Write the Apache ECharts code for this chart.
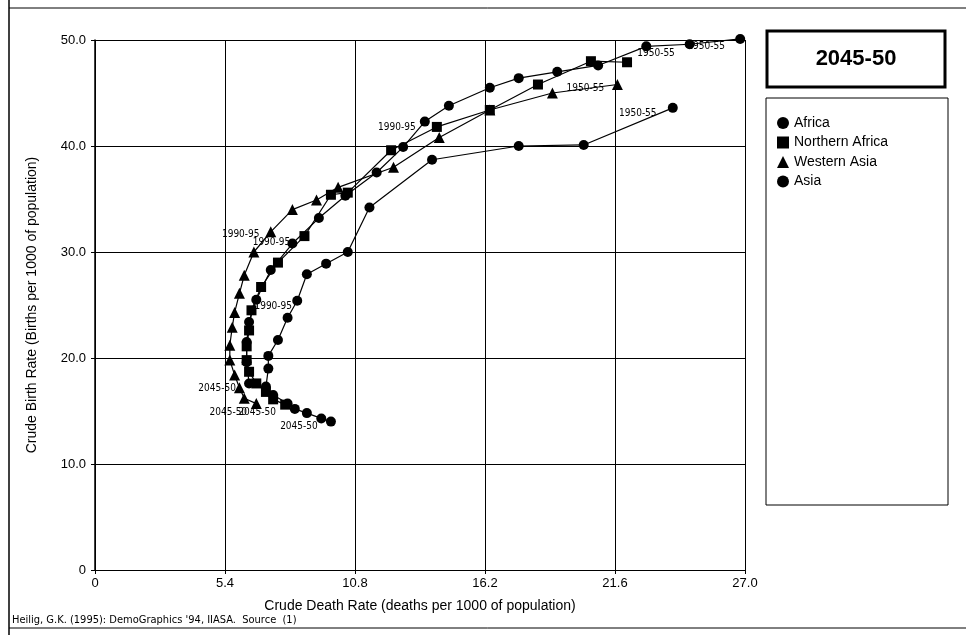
<!DOCTYPE html>
<html><head><meta charset="utf-8">
<script src="https://cdn.jsdelivr.net/npm/echarts@6/dist/echarts.min.js"></script>
<style>html,body{margin:0;padding:0;background:#fff}#c{width:966px;height:635px}</style>
</head><body><div id="c"></div>
<script>
const periods = ['1950-55','1955-60','1960-65','1965-70','1970-75','1975-80','1980-85','1985-90','1990-95','1995-00',
                 '2000-05','2005-10','2010-15','2015-20','2020-25','2025-30','2030-35','2035-40','2040-45','2045-50'];
const xTicks = [0, 5.4, 10.8, 16.2, 21.6, 27.0];
const yTicks = [0, 10, 20, 30, 40, 50];

const africaCDR = [26.8,24.7,22.9,20.9,19.2,17.6,16.4,14.7,13.7,12.8,11.7,10.4,9.3,8.2,7.3,6.7,6.4,6.3,6.3,6.4];
const africaCBR = [50.1,49.6,49.4,47.6,47.0,46.4,45.5,43.8,42.3,39.9,37.5,35.3,33.2,30.8,28.3,25.5,23.4,21.5,19.6,17.6];

const nAfricaCDR = [22.1,20.6,18.4,16.4,14.2,12.3,10.5,9.8,8.7,7.6,6.9,6.5,6.4,6.3,6.3,6.4,6.7,7.1,7.4,7.9];
const nAfricaCBR = [47.9,48.0,45.8,43.4,41.8,39.6,35.6,35.4,31.5,29.0,26.7,24.5,22.6,21.1,19.8,18.7,17.6,16.8,16.1,15.6];

const wAsiaCDR = [21.7,19.0,16.4,14.3,12.4,10.1,9.2,8.2,7.3,6.6,6.2,6.0,5.8,5.7,5.6,5.6,5.8,6.0,6.2,6.7];
const wAsiaCBR = [45.8,45.0,43.4,40.8,38.0,36.1,34.9,34.0,31.9,30.0,27.8,26.1,24.3,22.9,21.2,19.8,18.4,17.2,16.2,15.7];

const asiaCDR = [24.0,20.3,17.6,14.0,11.4,10.5,9.6,8.8,8.4,8.0,7.6,7.2,7.2,7.1,7.4,8.0,8.3,8.8,9.4,9.8];
const asiaCBR = [43.6,40.1,40.0,38.7,34.2,30.0,28.9,27.9,25.4,23.8,21.7,20.2,19.0,17.3,16.5,15.7,15.2,14.8,14.3,14.0];

const seriesNames = ['Africa','Northern Africa','Western Asia','Asia'];
const labelledPeriods = ['1950-55','1990-95','2045-50'];

// label offsets (styling) per series, for the labelled periods
const labelOffsets = {
  'Africa':          [[-34,7],[-28,6],[-32,5]],
  'Northern Africa': [[29,-9],[-33,6],[-28,8]],
  'Western Asia':    [[-32,4],[-30,3],[-28,9]],
  'Asia':            [[-35,6],[-24,6],[-32,5]]
};
const symbols = {'Africa':'circle','Northern Africa':'rect','Western Asia':'triangle','Asia':'circle'};
const symSizes = {'Africa':10,'Northern Africa':10,'Western Asia':11,'Asia':10};

function build(name, xs, ys) {
  const data = xs.map((x, i) => {
    const p = periods[i];
    const k = labelledPeriods.indexOf(p);
    const item = { value: [x, ys[i]] };
    if (k >= 0) {
      item.label = {
        show: true, formatter: p, position: 'inside', offset: labelOffsets[name][k],
        color: '#000', fontSize: 10, fontFamily: '"Liberation Sans Narrow","DejaVu Sans Condensed","Liberation Sans",sans-serif'
      };
    }
    return item;
  });
  return {
    name, type: 'line', data, symbol: symbols[name], symbolSize: symSizes[name],
    showAllSymbol: true, clip: false,
    lineStyle: { color: '#000', width: 1.2 },
    itemStyle: { color: '#000' },
    label: { show: false },
    emphasis: { disabled: true },
    z: 3
  };
}

const chart = echarts.init(document.getElementById('c'), null, { renderer: 'canvas' });
const fmt = v => (Math.abs(v) < 1e-9 ? '0' : (Math.round(v * 10) / 10).toFixed(1));
chart.setOption({
  animation: false,
  backgroundColor: '#fff',
  textStyle: { fontFamily: '"Liberation Sans", Arial, sans-serif' },
  grid: { left: 95, right: 221, top: 40, bottom: 65, containLabel: false },
  xAxis: {
    type: 'value', min: xTicks[0], max: xTicks[xTicks.length - 1], interval: xTicks[1],
    name: 'Crude Death Rate (deaths per 1000 of population)',
    nameLocation: 'middle', nameGap: 29,
    nameTextStyle: { color: '#000', fontSize: 14 },
    axisLine: { lineStyle: { color: '#000', width: 1 } },
    axisTick: { show: true, length: 4, lineStyle: { color: '#000' } },
    axisLabel: { color: '#000', fontSize: 13, margin: 7, formatter: fmt },
    splitLine: { show: true, lineStyle: { color: '#000', width: 1 } }
  },
  yAxis: {
    type: 'value', min: yTicks[0], max: yTicks[yTicks.length - 1], interval: yTicks[1],
    name: 'Crude Birth Rate (Births per 1000 of population)',
    nameLocation: 'middle', nameGap: 56, nameRotate: 90,
    nameTextStyle: { color: '#000', fontSize: 14 },
    axisLine: { show: true, lineStyle: { color: '#000', width: 1.5 } },
    axisTick: { show: true, length: 4, lineStyle: { color: '#000' } },
    axisLabel: { color: '#000', fontSize: 13, margin: 9, formatter: fmt },
    splitLine: { show: true, lineStyle: { color: '#000', width: 1 } }
  },
  legend: {
    orient: 'vertical', left: 772, top: 111, itemWidth: 12, itemHeight: 12, itemGap: 5.5,
    textStyle: { color: '#000', fontSize: 14 },
    data: seriesNames.map(n => ({ name: n, icon: symbols[n] })),
    itemStyle: { color: '#000' },
    selectedMode: false
  },
  series: [
    build('Africa', africaCDR, africaCBR),
    build('Northern Africa', nAfricaCDR, nAfricaCBR),
    build('Western Asia', wAsiaCDR, wAsiaCBR),
    build('Asia', asiaCDR, asiaCBR)
  ],
  graphic: [
    { type: 'line', shape: { x1: 9, y1: 0, x2: 9, y2: 635 }, style: { stroke: '#000', lineWidth: 1.5 } },
    { type: 'line', shape: { x1: 9, y1: 8, x2: 966, y2: 8 }, style: { stroke: '#000', lineWidth: 1 } },
    { type: 'line', shape: { x1: 9, y1: 628, x2: 966, y2: 628 }, style: { stroke: '#000', lineWidth: 1 } },
    { type: 'rect', shape: { x: 767, y: 31, width: 178, height: 56 }, style: { fill: '#fff', stroke: '#000', lineWidth: 3 } },
    { type: 'text', x: 856, y: 59, style: { text: '2045-50', fill: '#000', font: 'bold 22px "Liberation Sans", Arial, sans-serif', textAlign: 'center', textVerticalAlign: 'middle' } },
    { type: 'rect', shape: { x: 766, y: 98, width: 182, height: 407 }, style: { fill: 'none', stroke: '#000', lineWidth: 1 } },
    { type: 'text', x: 12, y: 620, style: { text: "Heilig, G.K. (1995): DemoGraphics '94, IIASA.  Source  (1)", fill: '#000', font: '11px "Liberation Sans Narrow", "DejaVu Sans Condensed", sans-serif', textVerticalAlign: 'middle' } }
  ]
});
</script></body></html>
